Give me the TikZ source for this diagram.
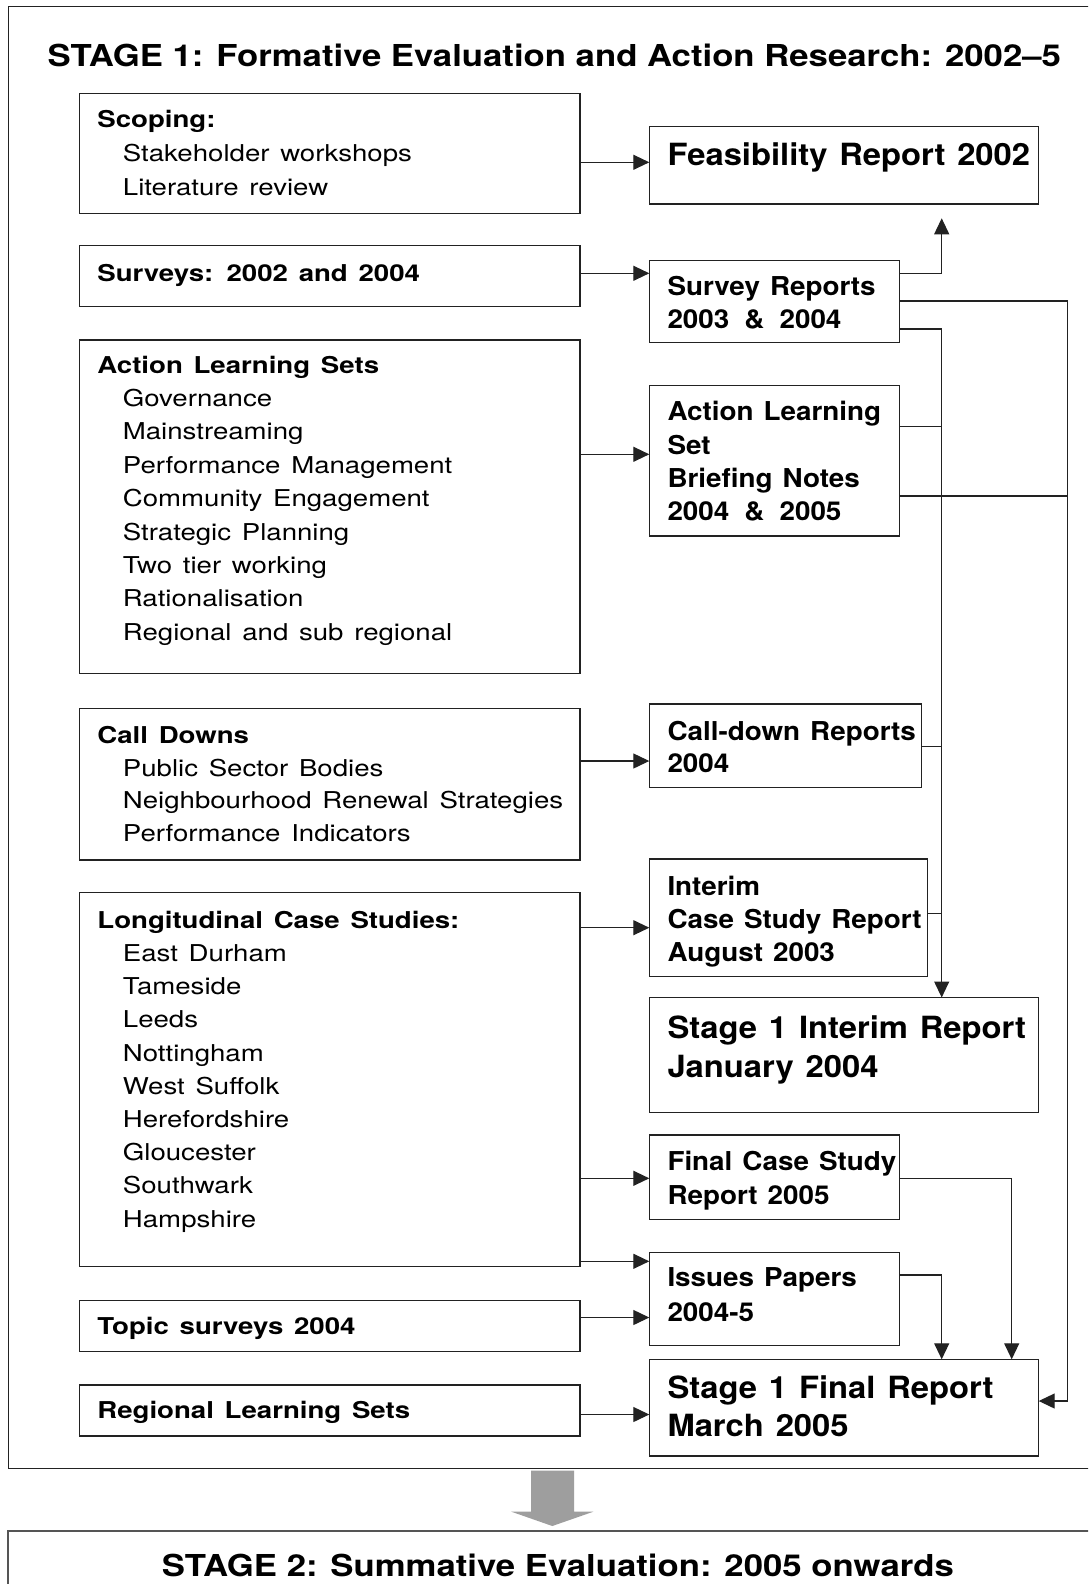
\documentclass[tikz,border=0pt]{standalone}
\usepackage{fontspec}
\usetikzlibrary{arrows.meta,calc}
\setmainfont{TeX Gyre Heros}
\newfontfamily\leftf{TeX Gyre Heros}[FakeStretch=1.19,WordSpace=1.4]
\newfontfamily\rightf{TeX Gyre Heros}[FakeStretch=1.07,WordSpace=1.3]
\newfontfamily\titlef{TeX Gyre Heros}[FakeStretch=1.15]
\definecolor{ink}{HTML}{222222}
\definecolor{arrowgray}{HTML}{9E9E9E}
\definecolor{framegray}{HTML}{555555}
\newcommand\txtlines[2]{\vtop{\baselineskip=#1\lineskiplimit=-1000pt\lineskip=0pt #2}}
\newcommand\rowhead[1]{\hbox{#1}}
\newcommand\rowitem[1]{\hbox{\hspace*{25.5pt}#1}}
\tikzset{
  bx/.style={draw=ink,line width=1.3pt,inner sep=0pt,outer sep=0pt,anchor=north west},
  lt/.style={anchor=base west,inner sep=0pt,font=\leftf\fontsize{23.2}{33.3}\selectfont},
  rt/.style={anchor=base west,inner sep=0pt,font=\rightf\bfseries\fontsize{26}{33.3}\selectfont},
  bt/.style={anchor=base west,inner sep=0pt,font=\rightf\bfseries\fontsize{30.6}{39}\selectfont},
  tt/.style={anchor=base west,inner sep=0pt,font=\titlef\bfseries\fontsize{30.2}{36}\selectfont},
  conn/.style={draw=ink,line width=1.2pt},
  arr/.style={conn,-{Triangle[length=16pt,width=15pt]}},
}
\begin{document}
\begin{tikzpicture}[x=1pt,y=-1pt]
\useasboundingbox (0,0) rectangle (1088,1584);
\clip (0,0) rectangle (1088,1584);
\fill[white] (0,0) rectangle (1088,1584);

% stage frames
\draw[ink,line width=1.4pt] (8.3,6.7) rectangle (1110,1468.3);
\draw[framegray,line width=1.8pt] (8.3,1530.7) rectangle (1110,1620);

% titles
\node[tt] (title1) at (47.5,66.7) {STAGE 1: Formative Evaluation and Action Research: 2002–5};
\node[tt] (title2) at (161.6,1576.5) {STAGE 2: Summative Evaluation: 2005 onwards};

% gray transition arrow
\fill[arrowgray] (531,1470.7) -- (574,1470.7) -- (574,1511.7) -- (593.3,1511.7)
  -- (552.3,1526) -- (511.4,1511.7) -- (531,1511.7) -- cycle;

% left column boxes
\node[bx,minimum width=500.4pt,minimum height=120pt]   (scop)  at (79.6,93.3) {};
\node[bx,minimum width=500.4pt,minimum height=61pt]    (surv)  at (79.6,245.7) {};
\node[bx,minimum width=500.4pt,minimum height=333.3pt] (als)   at (79.6,340) {};
\node[bx,minimum width=500.4pt,minimum height=151.7pt] (cd)    at (79.6,708.3) {};
\node[bx,minimum width=500.4pt,minimum height=374pt]   (lcs)   at (79.6,892.7) {};
\node[bx,minimum width=500.4pt,minimum height=51pt]    (topic) at (79.6,1300.7) {};
\node[bx,minimum width=500.4pt,minimum height=51pt]    (rls)   at (79.6,1385) {};

% right column boxes
\node[bx,minimum width=389.4pt,minimum height=77.3pt]  (feas) at (649.3,126.7) {};
\node[bx,minimum width=250pt,minimum height=82pt]      (srep) at (649.3,260.7) {};
\node[bx,minimum width=250pt,minimum height=150.3pt]   (alsn) at (649.3,385.7) {};
\node[bx,minimum width=272.4pt,minimum height=83.7pt]  (cdr)  at (649.3,704) {};
\node[bx,minimum width=278pt,minimum height=117.3pt]   (icsr) at (649.3,859) {};
\node[bx,minimum width=389.4pt,minimum height=114.8pt] (sii)  at (649.3,997.5) {};
\node[bx,minimum width=250pt,minimum height=84.3pt]    (fcsr) at (649.3,1135) {};
\node[bx,minimum width=250pt,minimum height=92.6pt]    (iss)  at (649.3,1252.7) {};
\node[bx,minimum width=389.4pt,minimum height=96.7pt]  (sif)  at (649.3,1359.3) {};

% left texts
\node[lt] (scopT) at (97.2,127.3) {\txtlines{34.2pt}{\rowhead{\bfseries Scoping:}\rowitem{Stakeholder workshops}\rowitem{Literature review}}};
\node[lt] (survT) at (97.2,281.5) {\bfseries Surveys: 2002 and 2004};
\node[lt] (alsT) at (97.2,373.3) {\txtlines{33.34pt}{\rowhead{\bfseries Action Learning Sets}\rowitem{Governance}\rowitem{Mainstreaming}\rowitem{Performance Management}\rowitem{Community Engagement}\rowitem{Strategic Planning}\rowitem{Two tier working}\rowitem{Rationalisation}\rowitem{Regional and sub regional}}};
\node[lt] (cdT) at (97.2,743.3) {\txtlines{32.8pt}{\rowhead{\bfseries Call Downs}\rowitem{Public Sector Bodies}\rowitem{Neighbourhood Renewal Strategies}\rowitem{Performance Indicators}}};
\node[lt] (lcsT) at (97.2,928.3) {\txtlines{33.2pt}{\rowhead{\bfseries Longitudinal Case Studies:}\rowitem{East Durham}\rowitem{Tameside}\rowitem{Leeds}\rowitem{Nottingham}\rowitem{West Suffolk}\rowitem{Herefordshire}\rowitem{Gloucester}\rowitem{Southwark}\rowitem{Hampshire}}};
\node[lt] (topicT) at (97.2,1334.3) {\bfseries Topic surveys 2004};
\node[lt] (rlsT) at (97.2,1418.3) {\bfseries Regional Learning Sets};

% right texts
\node[bt] (feasT) at (667.3,165) {Feasibility Report 2002};
\node[rt] (srepT) at (667.3,295) {\txtlines{33.3pt}{\rowhead{Survey Reports}\rowhead{2003\hspace{5pt} \&\hspace{5pt} 2004}}};
\node[rt] (alsnT) at (667.3,420.7) {\txtlines{33.3pt}{\rowhead{Action Learning}\rowhead{Set}\rowhead{Briefing Notes}\rowhead{2004\hspace{5pt} \&\hspace{5pt} 2005}}};
\node[rt] (cdrT) at (667.3,740) {\txtlines{32.7pt}{\rowhead{Call-down Reports}\rowhead{2004}}};
\node[rt] (icsrT) at (667.3,895) {\txtlines{33.35pt}{\rowhead{Interim}\rowhead{Case Study Report}\rowhead{August 2003}}};
\node[bt] (siiT) at (667.3,1038.3) {\txtlines{39pt}{\rowhead{Stage 1 Interim Report}\rowhead{January 2004}}};
\node[rt] (fcsrT) at (667.3,1170.7) {\txtlines{33.6pt}{\rowhead{Final Case Study}\rowhead{Report 2005}}};
\node[rt] (issT) at (667.3,1286.7) {\txtlines{34.3pt}{\rowhead{Issues Papers}\rowhead{2004-5}}};
\node[bt] (sifT) at (667.3,1398.3) {\txtlines{37.7pt}{\rowhead{Stage 1 Final Report}\rowhead{March 2005}}};

% bus coordinates
\coordinate (busA) at (941.7,0);
\coordinate (busB) at (1067.3,0);
\coordinate (busC) at (1011.7,0);
\coordinate (feasTip) at (941.7,218.3);

% left-to-right arrows
\draw[arr] (scop.east |- 0,162.3) -- (feas.west |- 0,162.3);
\draw[arr] (surv.east |- 0,273.3) -- (srep.west |- 0,273.3);
\draw[arr] (als.east |- 0,454.3) -- (alsn.west |- 0,454.3);
\draw[arr] (cd.east |- 0,761) -- (cdr.west |- 0,761);
\draw[arr] (lcs.east |- 0,927.7) -- (icsr.west |- 0,927.7);
\draw[arr] (lcs.east |- 0,1178.3) -- (fcsr.west |- 0,1178.3);
\draw[arr] (lcs.east |- 0,1261.3) -- (iss.west |- 0,1261.3);
\draw[arr] (topic.east |- 0,1317.5) -- (iss.west |- 0,1317.5);
\draw[arr] (rls.east |- 0,1414.5) -- (sif.west |- 0,1414.5);

% right-side routing
\draw[arr] (srep.east |- 0,273.3) -| (feasTip);
\draw[arr] (srep.east |- 0,329) -| (sii.north -| busA);
\draw[conn] (alsn.east |- 0,426.7) -- (busA |- 0,426.7);
\draw[conn] (cdr.east |- 0,746.7) -- (busA |- 0,746.7);
\draw[conn] (icsr.east |- 0,913.3) -- (busA |- 0,913.3);
\draw[arr] (srep.east |- 0,301) -| (busB |- 0,1401) -- (sif.east |- 0,1401);
\draw[conn] (alsn.east |- 0,496) -- (busB |- 0,496);
\draw[arr] (fcsr.east |- 0,1178.3) -| (sif.north -| busC);
\draw[arr] (iss.east |- 0,1275) -| (sif.north -| busA);
\end{tikzpicture}
\end{document}
